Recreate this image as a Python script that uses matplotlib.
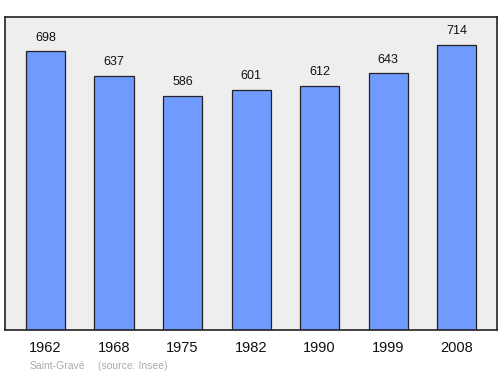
import matplotlib
matplotlib.use("Agg")
import matplotlib.pyplot as plt

years = ["1962", "1968", "1975", "1982", "1990", "1999", "2008"]
population = [698, 637, 586, 601, 612, 643, 714]
place = "Saint-Gravé"
source = "(source: Insee)"

plt.rcParams['font.family'] = ['Liberation Sans', 'DejaVu Sans']

fig = plt.figure(figsize=(5, 3.74), dpi=100)
ax = fig.add_axes([0.01, 0.1176, 0.984, 0.837])
ax.set_facecolor("#eeeeee")
x = list(range(len(years)))
ax.bar(x, population, width=0.57, color="#6f9bff", edgecolor="#222222", linewidth=0.9)
for xi, v in zip(x, population):
    ax.annotate(str(v), (xi, v), xytext=(0, 5.5), textcoords="offset points",
                ha="center", va="bottom", fontsize=9, color="#111111")
ax.set_xlim(-0.591, 6.59)
ax.set_ylim(0, 784)
ax.set_yticks([])
ax.set_xticks(x)
ax.set_xticklabels(years, fontsize=10.5, color="#111111")
ax.tick_params(axis="x", length=0, pad=8)
for s in ax.spines.values():
    s.set_linewidth(1.2)
    s.set_color("#222222")
fig.text(30/500, 1-366/374, place, fontsize=7.5, color="#aaaaaa", va="center", ha="left")
fig.text(98/500, 1-366/374, source, fontsize=7.5, color="#aaaaaa", va="center", ha="left")
fig.savefig("out.png", dpi=100)
